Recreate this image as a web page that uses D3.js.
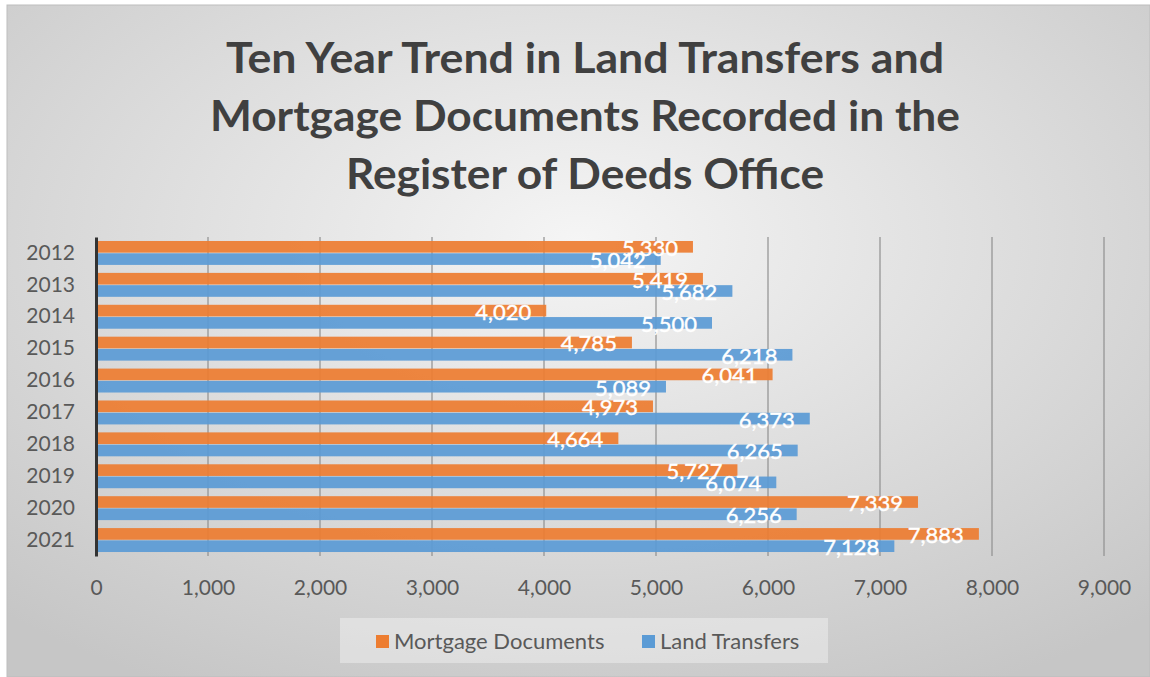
<!DOCTYPE html>
<html>
<head>
<meta charset="utf-8">
<script src="https://cdn.jsdelivr.net/npm/d3@7"></script>
<style>
  body { margin: 0; background: #fff; }
  text { font-family: Lato, "Open Sans", sans-serif; }
</style>
</head>
<body>
<svg width="1150" height="677"></svg>
<script>
var years = ["2012", "2013", "2014", "2015", "2016", "2017", "2018", "2019", "2020", "2021"];
var mortgage = [5330, 5419, 4020, 4785, 6041, 4973, 4664, 5727, 7339, 7883];
var land = [5042, 5682, 5500, 6218, 5089, 6373, 6265, 6074, 6256, 7128];
var seriesNames = ["Mortgage Documents", "Land Transfers"];
var seriesColors = ["#ED7D31", "#5B9BD5"];
var xTicks = [0, 1000, 2000, 3000, 4000, 5000, 6000, 7000, 8000, 9000];
var titleLines = ["Ten Year Trend in Land Transfers and",
                  "Mortgage Documents Recorded in the",
                  "Register of Deeds Office"];

var svg = d3.select("svg"),
    width = +svg.attr("width"),
    height = +svg.attr("height");

// background with soft radial shading
var defs = svg.append("defs");
var grad = defs.append("radialGradient")
    .attr("id", "bg")
    .attr("cx", "50%").attr("cy", "35%").attr("r", "75%");
grad.append("stop").attr("offset", "0%").attr("stop-color", "#f5f5f5");
grad.append("stop").attr("offset", "100%").attr("stop-color", "#c6c6c6");

svg.append("rect")
    .attr("x", 7).attr("y", 5)
    .attr("width", width - 7).attr("height", height - 5)
    .attr("fill", "url(#bg)")
    .attr("stroke", "#bdbdbd");

// title
var titleWidths = [718, 750, 478];
svg.append("g")
    .selectAll("text")
    .data(titleLines)
    .enter().append("text")
    .attr("x", 585)
    .attr("y", function (d, i) { return 73 + i * 58; })
    .attr("text-anchor", "middle")
    .attr("font-size", 42)
    .attr("font-weight", "bold")
    .attr("fill", "#404040")
    .attr("textLength", function (d, i) { return titleWidths[i]; })
    .attr("lengthAdjust", "spacingAndGlyphs")
    .text(function (d) { return d; });

var x = d3.scaleLinear()
    .domain([0, 9000])
    .range([96, 1104]);

var y = d3.scaleBand()
    .domain(years)
    .range([237, 556])
    .paddingInner(0.25)
    .paddingOuter(0.125);

var ySub = d3.scaleBand()
    .domain(seriesNames)
    .range([0, y.bandwidth()])
    .paddingInner(0.05);

// gridlines
svg.append("g")
    .attr("class", "grid")
    .selectAll("line")
    .data(xTicks.slice(1))
    .enter().append("line")
    .attr("x1", function (d) { return x(d); })
    .attr("x2", function (d) { return x(d); })
    .attr("y1", 237)
    .attr("y2", 556)
    .attr("stroke", "#8f8f8f")
    .attr("stroke-width", 1.2);

// x axis labels
var xAxis = svg.append("g")
    .attr("transform", "translate(0,556)")
    .call(d3.axisBottom(x)
        .tickValues(xTicks)
        .tickSize(0)
        .tickPadding(24)
        .tickFormat(d3.format(",")));
xAxis.select(".domain").remove();
xAxis.selectAll("text")
    .attr("font-size", 21)
    .attr("fill", "#595959")
    .style("font-family", "Lato, 'Open Sans', sans-serif");

// bars
var rows = years.map(function (yr, i) {
    return { year: yr, values: [
        { name: seriesNames[0], value: mortgage[i], color: seriesColors[0] },
        { name: seriesNames[1], value: land[i], color: seriesColors[1] }
    ] };
});

var groups = svg.append("g")
    .selectAll("g")
    .data(rows)
    .enter().append("g")
    .attr("transform", function (d) { return "translate(0," + y(d.year) + ")"; });

groups.selectAll("rect")
    .data(function (d) { return d.values; })
    .enter().append("rect")
    .attr("x", x(0))
    .attr("y", function (d) { return ySub(d.name); })
    .attr("width", function (d) { return x(d.value) - x(0); })
    .attr("height", ySub.bandwidth())
    .attr("fill", function (d) { return d.color; })
    .attr("fill-opacity", 0.93);

groups.selectAll("text")
    .data(function (d) { return d.values; })
    .enter().append("text")
    .attr("x", function (d) { return x(d.value) - 15; })
    .attr("y", function (d) { return ySub(d.name) + ySub.bandwidth() / 2 + 1; })
    .attr("dy", "0.36em")
    .attr("text-anchor", "end")
    .attr("font-size", 22)
    .attr("fill", "#ffffff")
    .attr("stroke", "#ffffff")
    .attr("stroke-width", 0.4)
    .text(function (d) { return d3.format(",")(d.value); });

// y axis
var yAxis = svg.append("g")
    .attr("transform", "translate(96,0)")
    .call(d3.axisLeft(y).tickSize(0).tickPadding(21));
yAxis.select(".domain")
    .attr("stroke", "#333")
    .attr("stroke-width", 3);
yAxis.selectAll("text")
    .attr("font-size", 21)
    .attr("fill", "#595959")
    .style("font-family", "Lato, 'Open Sans', sans-serif");

// legend
var legend = svg.append("g").attr("class", "legend");
legend.append("rect")
    .attr("x", 340).attr("y", 618)
    .attr("width", 488).attr("height", 45)
    .attr("fill", "#f4f4f4")
    .attr("fill-opacity", 0.45);

var legendX = [376, 642];
var items = legend.selectAll("g.item")
    .data(seriesNames)
    .enter().append("g")
    .attr("class", "item")
    .attr("transform", function (d, i) { return "translate(" + legendX[i] + ",0)"; });
items.append("rect")
    .attr("x", 0).attr("y", 635)
    .attr("width", 13).attr("height", 13)
    .attr("fill", function (d, i) { return seriesColors[i]; });
items.append("text")
    .attr("x", 18).attr("y", 649)
    .attr("font-size", 22)
    .attr("fill", "#595959")
    .text(function (d) { return d; });
</script>
</body>
</html>
